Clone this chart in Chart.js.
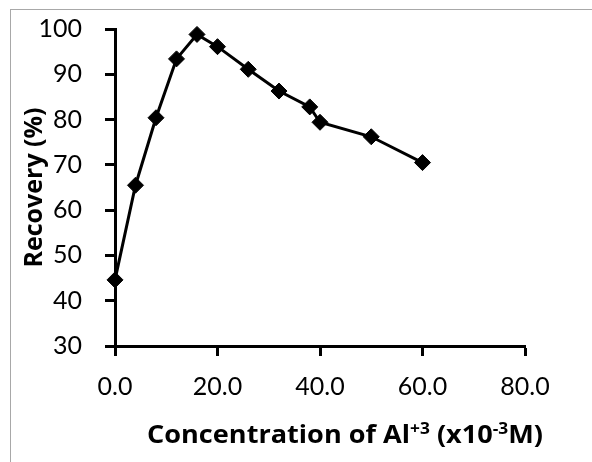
<!DOCTYPE html>
<html>
<head>
<meta charset="utf-8">
<script src="https://cdn.jsdelivr.net/npm/chart.js@4.4.0/dist/chart.umd.min.js"></script>
<style>
  html, body { margin: 0; padding: 0; background: #fff; }
  #wrap { position: relative; width: 592px; height: 462px; overflow: hidden; }
  #frame { position: absolute; left: 10px; top: 9px; width: 700px; height: 600px;
           border-top: 1px solid #a8a8a8; border-left: 1px solid #a8a8a8; }
  canvas { position: absolute; left: 0; top: 0; }
</style>
</head>
<body>
<div id="wrap">
  <div id="frame"></div>
  <canvas id="chart_CNVS" width="592" height="462"></canvas>
</div>
<script>
"use strict";

// concentration of Al+3 (x10^-3 M)
var concentration = [0, 4, 8, 12, 16, 20, 26, 32, 38, 40, 50, 60];
// recovery (%)
var recovery = [44.6, 65.5, 80.4, 93.4, 98.8, 96.1, 91.1, 86.3, 82.8, 79.4, 76.2, 70.5];

var FONT = "Lato, 'Open Sans', sans-serif";
var BOLD_FONT = "'Open Sans', sans-serif";

// x title with superscripts, drawn as text pieces
var xTitleParts = [
   { t: "Concentration of Al", sup: false }
  ,{ t: "+3", sup: true }
  ,{ t: " (x10", sup: false }
  ,{ t: "-3", sup: true }
  ,{ t: "M)", sup: false }
];

var xTitlePlugin = {
  id: "xTitle",
  afterDraw: function(chart) {
     let ctx = chart.ctx;
     let big = "bold 25px " + BOLD_FONT, small = "bold 16px " + BOLD_FONT;
     ctx.save();
     let w = 0;
     xTitleParts.forEach(function(p) { ctx.font = p.sup ? small : big; w += ctx.measureText(p.t).width; });
     // fit to the reference title width (~396px)
     let sx = 396 / w;
     ctx.translate(345 - w * sx / 2, 443);
     ctx.scale(sx, 1);
     let x = 0;
     ctx.fillStyle = "#000";
     ctx.textBaseline = "alphabetic";
     ctx.textAlign = "left";
     xTitleParts.forEach(function(p) {
        ctx.font = p.sup ? small : big;
        ctx.fillText(p.t, x, p.sup ? -9 : 0);
        x += ctx.measureText(p.t).width;
      });
     ctx.restore();
   }
};

new Chart(document.getElementById("chart_CNVS"), {
   type: "line"
  ,data: {
      datasets: [{
         data: concentration.map((c, i) => ({ x: c, y: recovery[i] }))
        ,borderColor: "#000"
        ,borderWidth: 3
        ,backgroundColor: "#000"
        ,pointStyle: "rectRot"
        ,pointRadius: 8
        ,pointBorderWidth: 1
        ,tension: 0
        ,clip: false
      }]
    }
  ,options: {
      responsive: false
     ,animation: false
     ,layout: { padding: { top: 29, right: 67, left: 0, bottom: 0 } }
     ,plugins: { legend: { display: false }, tooltip: { enabled: false } }
     ,scales: {
         x: {
            type: "linear", min: 0, max: 80
           ,grid: { display: true, drawOnChartArea: false, drawTicks: true, tickLength: 10, tickColor: "#000", tickWidth: 3 }
           ,border: { display: true, color: "#000", width: 3 }
           ,ticks: { stepSize: 20, padding: 16, color: "#000", font: { family: FONT, size: 25 },
                     callback: v => v.toFixed(1) }
           ,afterFit: function(scale) { scale.height = 116; scale.paddingLeft = 0; scale.paddingRight = 0; }
          }
        ,y: {
            min: 30, max: 100
           ,grid: { display: true, drawOnChartArea: false, drawTicks: true, tickLength: 10, tickColor: "#000", tickWidth: 3 }
           ,border: { display: true, color: "#000", width: 3 }
           ,ticks: { stepSize: 10, padding: 23, color: "#000", font: { family: FONT, size: 25 } }
           ,title: { display: true, text: "Recovery (%)", color: "#000", padding: { top: 20, bottom: 0 },
                     font: { family: BOLD_FONT, size: 25, weight: "bold" } }
           ,afterFit: function(scale) { scale.width = 115; scale.paddingTop = 0; scale.paddingBottom = 0; }
          }
       }
    }
  ,plugins: [xTitlePlugin]
});
</script>
</body>
</html>
